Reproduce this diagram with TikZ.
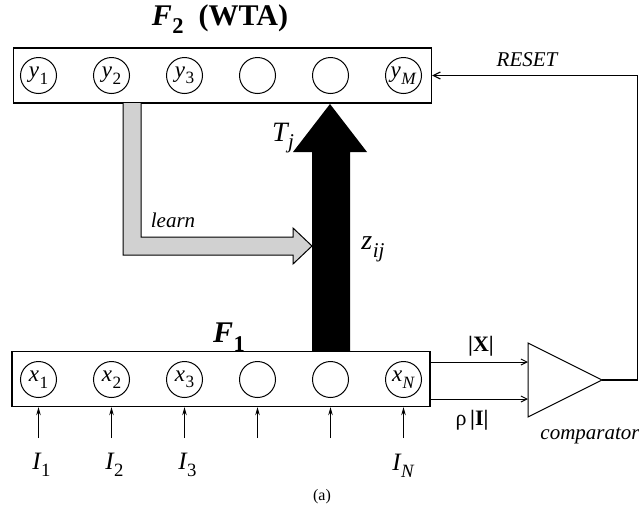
\documentclass[tikz,border=0pt]{standalone}
\usepackage{fontspec}
\setmainfont{Liberation Serif}
\usetikzlibrary{arrows.meta}
\newcommand\sbx[2]{#1\kern0.02em\raisebox{-0.28em}{\scalebox{0.75}{#2}}}
\begin{document}
\begin{tikzpicture}[x=1pt,y=-1pt,
  layerbox/.style={draw,line width=1.3pt,minimum width=418pt,minimum height=55pt,inner sep=0pt},
  unit/.style={draw,circle,line width=1pt,minimum size=36pt,inner sep=0pt},
  ulabel/.style={font=\fontsize{23}{23}\selectfont,inner sep=0pt},
  lbl/.style={font=\fontsize{21}{23}\selectfont\itshape,inner sep=0pt},
  biglbl/.style={font=\fontsize{28}{30}\selectfont\itshape,inner sep=0pt},
  inarrow/.style={line width=1pt,-{Stealth[length=8pt,width=4.5pt]}},
  sigarrow/.style={line width=1pt,-{Straight Barb[length=6pt,width=6pt]}},
  wire/.style={line width=1.1pt}]
\useasboundingbox (0,0) rectangle (639,517);

% layers
\node[layerbox] (F2) at (222.5,75.5) {};
\node[layerbox] (F1) at (221,379) {};
\foreach \i/\t in {1/\sbx{\textit{y}}{1},2/\sbx{\textit{y}}{2},3/\sbx{\textit{y}}{3},4/,5/,6/\sbx{\textit{y}}{\textit{M}}}{
  \node[unit,label={[ulabel]center:\t}] (y\i) at ({38.5+73*(\i-1)},75.5) {};
}
\foreach \i/\t in {1/\sbx{\textit{x}}{1},2/\sbx{\textit{x}}{2},3/\sbx{\textit{x}}{3},4/,5/,6/\sbx{\textit{x}}{\textit{N}}}{
  \node[unit,label={[ulabel]center:\t}] (x\i) at ({38.5+73*(\i-1)},379.5) {};
}

% titles
\node[font=\fontsize{30}{32}\selectfont\bfseries,inner sep=0pt] (t2) at (220,19) {\sbx{\textit{F}}{2}\ \ (WTA)};
\node[font=\fontsize{30}{32}\selectfont\bfseries\itshape,inner sep=0pt] (t1) at (229,337) {\sbx{F}{\upshape 1}};

% black bottom-up arrow
\fill[black] (312,351) -- (312,152) -- (293,152) -- (330,104) -- (367,152) -- (350,152) -- (350,351) -- cycle;
\node[biglbl] (Tj) at (283,138) {\sbx{T}{j}};
\node[biglbl] (zij) at (373,249) {\sbx{z}{ij}};

% learn arrow
\fill[black!18] (123,103) -- (123,255) -- (293,255) -- (293,264) -- (312,246) -- (293,228) -- (293,237) -- (141,237) -- (141,103) -- cycle;
\draw[line width=1pt] (141,103) -- (141,237) -- (293,237) -- (293,228) -- (312,246) -- (293,264) -- (293,255) -- (123,255) -- (123,103);
\node[lbl] (learn) at (173,220) {learn};

% inputs
\foreach \i/\t in {1/1,2/2,3/3}{
  \coordinate (in\i) at ({38.5+73*(\i-1)},438);
  \draw[inarrow] (in\i) -- (in\i |- F1.south);
  \node[font=\fontsize{25}{26}\selectfont\itshape,inner sep=0pt] (I\i) at ({41.5+73*(\i-1)},465) {\sbx{I}{\upshape\t}};
}
\foreach \i in {4,5,6}{
  \coordinate (in\i) at ({38.5+73*(\i-1)},438);
  \draw[inarrow] (in\i) -- (in\i |- F1.south);
}
\node[font=\fontsize{25}{26}\selectfont\itshape,inner sep=0pt] (IN) at (403,466) {\sbx{I}{N}};

% comparator
\coordinate (cA) at (528,343);
\coordinate (cB) at (528,417);
\coordinate (cT) at (602,380);
\draw[line width=1pt] (cA) -- (cT) -- (cB) -- cycle;
\node[lbl] (cmp) at (590,436) {comparator};
\coordinate (cX) at (528,362);
\coordinate (cI) at (528,399);
\draw[sigarrow] (F1.east |- cX) -- (cX);
\draw[sigarrow] (F1.east |- cI) -- (cI);
\node[font=\fontsize{22}{24}\selectfont\bfseries,inner sep=0pt] (lX) at (481,346) {|X|};
\node[font=\fontsize{22}{24}\selectfont,inner sep=0pt] (lI) at (472,420) {ρ\,\textbf{|I|}};

% reset
\coordinate (rc) at (637.5,75.5);
\draw[wire] (cT) -| (rc);
\draw[wire,-{Straight Barb[length=7pt,width=7pt]}] (rc) -- (F2.east);
\node[lbl] (reset) at (527,60) {RESET};

\node[font=\fontsize{16}{18}\selectfont,inner sep=0pt] (cap) at (322,497) {(a)};
\end{tikzpicture}
\end{document}
